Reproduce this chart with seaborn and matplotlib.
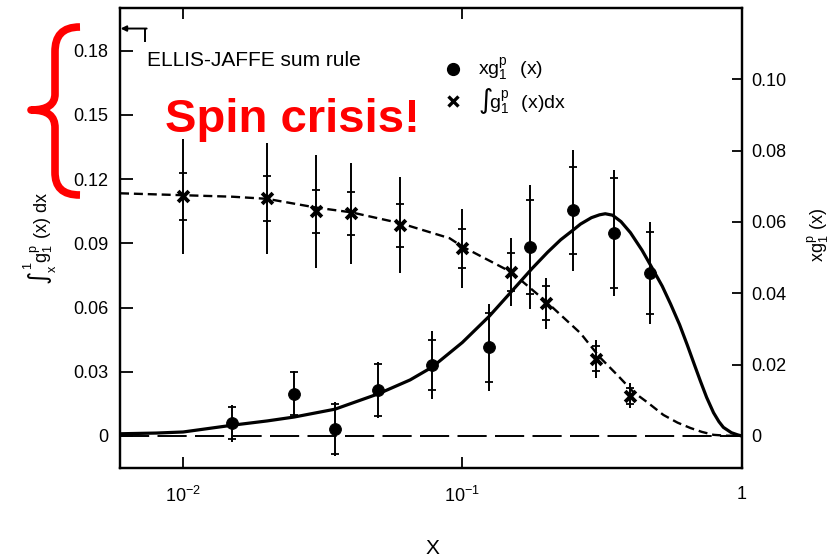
import matplotlib
matplotlib.use("Agg")
import matplotlib.pyplot as plt
import seaborn as sns
import pandas as pd
from matplotlib.path import Path
from matplotlib.patches import PathPatch
from matplotlib.lines import Line2D
from matplotlib.ticker import FixedLocator, FixedFormatter, NullLocator

# ---------------- data ----------------
# integral  ∫_x^1 g1p dx  (left axis), crosses
cross_x = [0.01, 0.02, 0.03, 0.04, 0.06, 0.10, 0.15, 0.20, 0.30, 0.40]
cross_y = [0.112, 0.111, 0.105, 0.104, 0.0985, 0.0877, 0.0765, 0.062, 0.036, 0.0187]
cross_stat = [0.011, 0.0105, 0.010, 0.010, 0.010, 0.009, 0.009, 0.008, 0.0058, 0.0037]
cross_tot = [0.027, 0.026, 0.0265, 0.0235, 0.0225, 0.0185, 0.016, 0.012, 0.009, 0.0058]

# x g1p(x) (right axis), dots
dot_x = [0.015, 0.025, 0.035, 0.05, 0.078, 0.125, 0.175, 0.25, 0.35, 0.47]
dot_y = [0.0036, 0.0118, 0.002, 0.0129, 0.0199, 0.0249, 0.053, 0.0633, 0.0569, 0.0457]
dot_stat = [0.0045, 0.006, 0.0070, 0.0072, 0.0070, 0.0097, 0.0132, 0.0122, 0.0155, 0.0115]
dot_tot = [0.0052, 0.0064, 0.0075, 0.0078, 0.0095, 0.0122, 0.0175, 0.017, 0.0178, 0.0142]

# solid fit curve x g1p(x) (right axis)
fit_x = [0.00594, 0.008, 0.01, 0.015, 0.02, 0.025, 0.035, 0.05, 0.065, 0.078, 0.1,
         0.125, 0.152, 0.178, 0.202, 0.225, 0.25, 0.265, 0.29, 0.31, 0.325, 0.345,
         0.37, 0.40, 0.44, 0.472, 0.52, 0.557, 0.60, 0.64, 0.68, 0.713, 0.75,
         0.794, 0.83, 0.861, 0.92, 0.968, 1.0]
fit_y = [0.0006, 0.0008, 0.0011, 0.0030, 0.0042, 0.0053, 0.0075, 0.0118, 0.0157,
         0.0193, 0.0262, 0.0336, 0.0410, 0.0470, 0.0515, 0.0550, 0.0578, 0.0594,
         0.0612, 0.0620, 0.0623, 0.0619, 0.0601, 0.0570, 0.0521, 0.0479, 0.0420,
         0.0370, 0.0312, 0.0254, 0.0197, 0.0153, 0.0108, 0.0065, 0.0040, 0.0024,
         0.0009, 0.0003, 0.0]

# dashed integral curve (left axis)
int_x = [0.00594, 0.01, 0.015, 0.02, 0.03, 0.04, 0.06, 0.09, 0.1, 0.15, 0.2,
         0.265, 0.31, 0.36, 0.41, 0.46, 0.525, 0.59, 0.656, 0.72, 0.794, 0.88, 1.0]
int_y = [0.1134, 0.1125, 0.1118, 0.1108, 0.1067, 0.1045, 0.0994, 0.0924, 0.0885,
         0.0765, 0.0627, 0.048, 0.0369, 0.0283, 0.0205, 0.0157, 0.0098, 0.0062,
         0.0037, 0.0019, 0.0005, 0.0001, 0.0]

left_ticks = [0, 0.03, 0.06, 0.09, 0.12, 0.15, 0.18]
left_labels = ["0", "0.03", "0.06", "0.09", "0.12", "0.15", "0.18"]
right_ticks = [0, 0.02, 0.04, 0.06, 0.08, 0.10]
right_labels = ["0", "0.02", "0.04", "0.06", "0.08", "0.10"]
x_ticks = [0.01, 0.1, 1.0]
x_labels = [r"$10^{-2}$", r"$10^{-1}$", "1"]

ellis_jaffe = 0.1904

# ---------------- style ----------------
sns.set_style("white")
plt.rcParams["font.family"] = ["Liberation Sans", "DejaVu Sans"]
plt.rcParams["mathtext.default"] = "regular"
plt.rcParams["lines.scale_dashes"] = False

W, H = 829, 558
fig = plt.figure(figsize=(W / 100, H / 100), dpi=100)
fig.patch.set_facecolor("white")
ax = fig.add_axes([120 / W, 1 - 468 / H, 622 / W, 460 / H])
ax2 = ax.twinx()

ax.set_xscale("log")
ax.set_xlim(0.00594, 1.004)
ax.set_ylim(-0.015, 0.20)
ax2.set_ylim(-0.009, 0.12)

# zero line (long dashes)
ax.axhline(0, color="black", lw=1.4, dashes=(21, 6), zorder=1)

# dashed integral curve
df_int = pd.DataFrame({"x": int_x, "y": int_y})
sns.lineplot(data=df_int, x="x", y="y", ax=ax, color="black", lw=1.7,
             estimator=None, sort=False, legend=False)
ax.lines[-1].set_dashes((6.5, 3.5))

# solid curve
df_fit = pd.DataFrame({"x": fit_x, "y": fit_y})
sns.lineplot(data=df_fit, x="x", y="y", ax=ax2, color="black", lw=2.3,
             estimator=None, sort=False, legend=False)
ax2.lines[-1].set_solid_joinstyle("round")

# error bars
ax.errorbar(cross_x, cross_y, yerr=cross_tot, fmt="none", ecolor="black",
            elinewidth=1.4, capsize=0, zorder=3)
ax.errorbar(cross_x, cross_y, yerr=cross_stat, fmt="none", ecolor="black",
            elinewidth=0, capsize=3.2, capthick=1.3, zorder=3)
ax2.errorbar(dot_x, dot_y, yerr=dot_tot, fmt="none", ecolor="black",
             elinewidth=1.4, capsize=0, zorder=3)
ax2.errorbar(dot_x, dot_y, yerr=dot_stat, fmt="none", ecolor="black",
             elinewidth=0, capsize=3.2, capthick=1.3, zorder=3)

# markers
df_cross = pd.DataFrame({"x": cross_x, "y": cross_y})
sns.scatterplot(data=df_cross, x="x", y="y", ax=ax, marker="x", s=60,
                color="black", linewidth=2.8, zorder=4, legend=False)
df_dot = pd.DataFrame({"x": dot_x, "y": dot_y})
sns.scatterplot(data=df_dot, x="x", y="y", ax=ax2, marker="o", s=72,
                color="black", edgecolor="black", zorder=4, legend=False)

# axes cosmetics
for a in (ax, ax2):
    a.set_xlabel("")
    a.set_ylabel("")
    for sp in a.spines.values():
        sp.set_visible(True)
        sp.set_color("black")
        sp.set_linewidth(1.6)

ax.xaxis.set_major_locator(FixedLocator(x_ticks))
ax.xaxis.set_major_formatter(FixedFormatter(x_labels))
ax.xaxis.set_minor_locator(NullLocator())
ax.yaxis.set_major_locator(FixedLocator(left_ticks))
ax.yaxis.set_major_formatter(FixedFormatter(left_labels))
ax2.yaxis.set_major_locator(FixedLocator(right_ticks))
ax2.yaxis.set_major_formatter(FixedFormatter(right_labels))

ax.tick_params(axis="x", which="major", direction="in", length=8, width=1.3,
               top=True, bottom=True, pad=13, labelsize=13, colors="black")
ax.tick_params(axis="y", which="major", direction="in", length=9, width=1.3,
               left=True, right=False, pad=8.5, labelsize=13, colors="black")
ax2.tick_params(axis="y", which="major", direction="in", length=7, width=1.3,
                pad=7, labelsize=13, colors="black")

# Ellis-Jaffe marker arrow
ax.plot([0.0073, 0.0073], [ellis_jaffe, 0.1839], color="black", lw=1.4,
        solid_capstyle="butt")
ax.annotate("", xy=(0.00597, ellis_jaffe), xytext=(0.0074, ellis_jaffe),
            arrowprops=dict(arrowstyle="-|>", color="black", lw=1.4,
                            mutation_scale=8, shrinkA=0, shrinkB=0))

# texts
fig.text(147 / W, 1 - 66 / H, "ELLIS-JAFFE sum rule", fontsize=15,
         ha="left", va="baseline", color="black")
fig.text(165 / W, 1 - 132 / H, "Spin crisis!", fontsize=34, fontweight="bold",
         ha="left", va="baseline", color="#ff0000")

# legend (manual)
fig.add_artist(Line2D([453 / W], [1 - 69 / H], marker="o", markersize=8.5,
                      color="black", linestyle="none"))
fig.add_artist(Line2D([453 / W], [1 - 101 / H], marker="x", markersize=7,
                      markeredgewidth=2.4, color="black", linestyle="none"))
fig.text(478 / W, 1 - 69 / H, r"$xg_1^p\ \ (x)$", fontsize=14, ha="left",
         va="center", color="black")
fig.text(478 / W, 1 - 101 / H, r"$\int\!g_1^p\ \ (x)dx$", fontsize=14,
         ha="left", va="center", color="black")

# axis labels
fig.text(40 / W, 1 - 238 / H, r"$\int_x^1 g_1^p\ (x)\ dx$", fontsize=13,
         rotation=90, ha="center", va="center", color="black")
fig.text(818 / W, 1 - 235 / H, r"$xg_1^p\ (x)$", fontsize=13,
         rotation=90, ha="center", va="center", color="black")
fig.text(432 / W, 1 - 548 / H, "X", fontsize=15, ha="center", va="center",
         color="black")

# red brace (figure pixel coords -> figure fraction)
def P(x, y):
    return (x / W, 1 - y / H)

verts = [P(80, 27), P(62, 27), P(55, 36), P(55, 52),
         P(55, 94),
         P(55, 104), P(48, 110), P(31, 110),
         P(48, 110), P(55, 116), P(55, 128),
         P(55, 172),
         P(55, 187), P(62, 195), P(80, 195)]
codes = [Path.MOVETO, Path.CURVE4, Path.CURVE4, Path.CURVE4,
         Path.LINETO,
         Path.CURVE4, Path.CURVE4, Path.CURVE4,
         Path.CURVE4, Path.CURVE4, Path.CURVE4,
         Path.LINETO,
         Path.CURVE4, Path.CURVE4, Path.CURVE4]
brace = PathPatch(Path(verts, codes), transform=fig.transFigure, fill=False,
                  edgecolor="#ff0000", lw=5.5, capstyle="butt", joinstyle="round")
fig.add_artist(brace)

fig.savefig("out.png", dpi=100, facecolor="white")
